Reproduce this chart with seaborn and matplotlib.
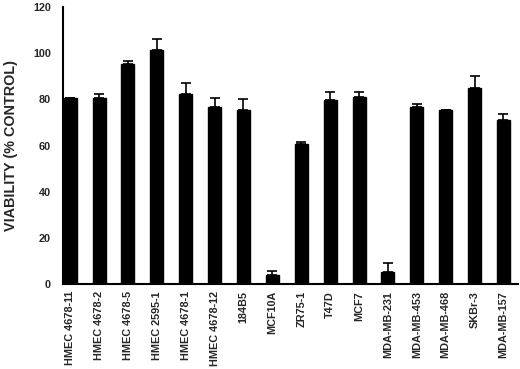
import matplotlib
matplotlib.use("Agg")
import matplotlib.pyplot as plt
import seaborn as sns
import numpy as np
import pandas as pd

categories = ["HMEC 4678-11", "HMEC 4678-2", "HMEC 4678-5", "HMEC 2595-1", "HMEC 4678-1",
              "HMEC 4678-12", "184B5", "MCF10A", "ZR75-1", "T47D", "MCF7", "MDA-MB-231",
              "MDA-MB-453", "MDA-MB-468", "SKBr-3", "MDA-MB-157"]
viability = [80.4, 80.4, 95.5, 101.5, 82.5, 76.5, 75.4, 3.8, 60.7, 79.9, 80.9, 5.1,
             76.8, 75.3, 84.9, 70.9]
errors = [0.4, 1.8, 1.3, 4.6, 4.4, 4.1, 4.6, 1.8, 0.7, 3.3, 2.3, 3.9, 1.4, 0.3, 5.2, 2.6]
yticks = [0, 20, 40, 60, 80, 100, 120]

sns.set_style("white")
plt.rcParams['font.family'] = ['Liberation Sans', 'DejaVu Sans']

df = pd.DataFrame({"cell": categories, "viability": viability})

fig = plt.figure(figsize=(5.2, 3.69), dpi=100)
ax = fig.add_axes([0.121, 0.230, 0.875, 0.751])
sns.barplot(data=df, x="cell", y="viability", color="black", width=0.45,
            saturation=1, ax=ax, errorbar=None)
for p in ax.patches:
    p.set_edgecolor("black")
ax.errorbar(x=np.arange(len(categories)), y=viability,
            yerr=[np.zeros(len(errors)), errors], fmt="none", ecolor="black",
            elinewidth=1.2, capsize=3.5, capthick=1.2)

ax.set_xlim(-0.25, len(categories) - 0.5)
ax.set_ylim(0, 120)
ax.set_yticks(yticks)
ax.set_yticklabels([str(t) for t in yticks], fontsize=7.8, fontweight="bold")
ax.set_xticks(np.arange(len(categories)))
ax.set_xticklabels(categories, rotation=90, fontsize=7.8, fontweight="bold")
ax.tick_params(axis="x", length=0, pad=5)
ax.tick_params(axis="y", direction="inout", length=5, width=1.2, pad=6)
ax.set_xlabel("")
ax.set_ylabel("VIABILITY (% CONTROL)", fontsize=10.4, fontweight="bold", labelpad=11)
for s in ["top", "right"]:
    ax.spines[s].set_visible(False)
for s in ["left", "bottom"]:
    ax.spines[s].set_color("black")
    ax.spines[s].set_linewidth(1.5)

fig.savefig("out.png", dpi=100)
